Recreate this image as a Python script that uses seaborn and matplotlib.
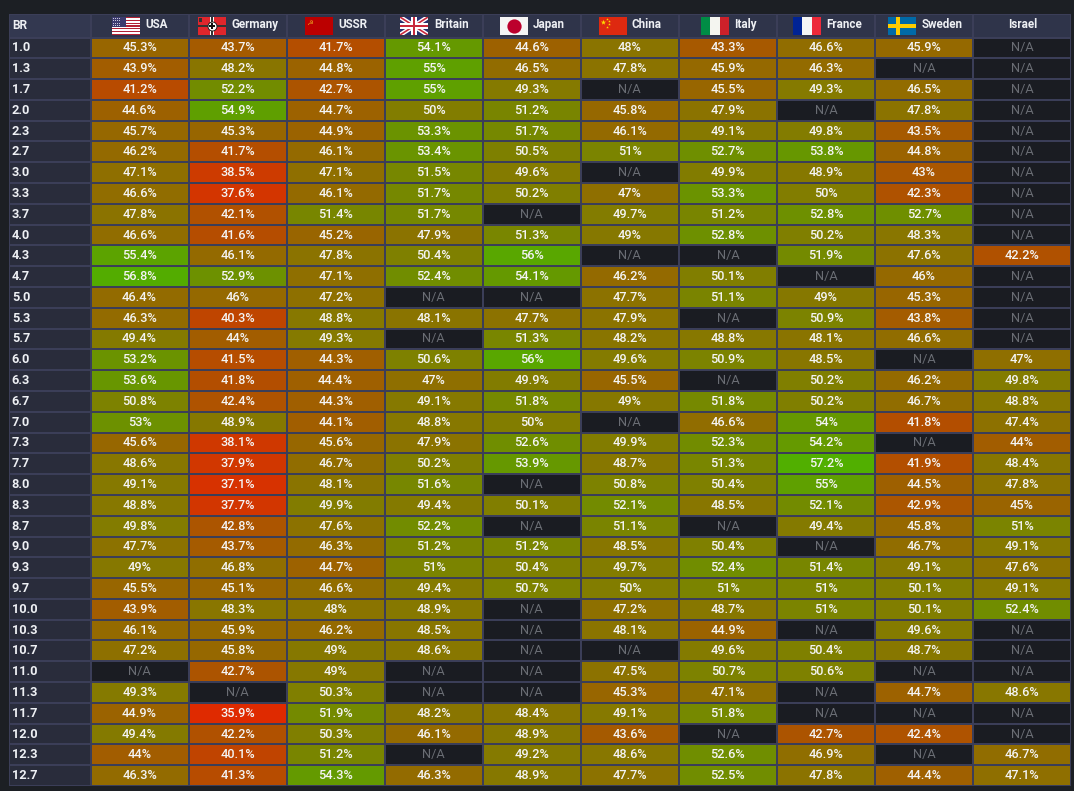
import matplotlib
matplotlib.use("Agg")
import matplotlib.pyplot as plt
import numpy as np
import pandas as pd
import seaborn as sns
from matplotlib.colors import LinearSegmentedColormap, ListedColormap
from matplotlib.patches import Rectangle

NA = np.nan

br = ["1.0", "1.3", "1.7", "2.0", "2.3", "2.7", "3.0", "3.3", "3.7", "4.0", "4.3", "4.7",
      "5.0", "5.3", "5.7", "6.0", "6.3", "6.7", "7.0", "7.3", "7.7", "8.0", "8.3", "8.7",
      "9.0", "9.3", "9.7", "10.0", "10.3", "10.7", "11.0", "11.3", "11.7", "12.0", "12.3", "12.7"]

usa = [45.3, 43.9, 41.2, 44.6, 45.7, 46.2, 47.1, 46.6, 47.8, 46.6, 55.4, 56.8,
       46.4, 46.3, 49.4, 53.2, 53.6, 50.8, 53, 45.6, 48.6, 49.1, 48.8, 49.8,
       47.7, 49, 45.5, 43.9, 46.1, 47.2, NA, 49.3, 44.9, 49.4, 44, 46.3]
germany = [43.7, 48.2, 52.2, 54.9, 45.3, 41.7, 38.5, 37.6, 42.1, 41.6, 46.1, 52.9,
           46, 40.3, 44, 41.5, 41.8, 42.4, 48.9, 38.1, 37.9, 37.1, 37.7, 42.8,
           43.7, 46.8, 45.1, 48.3, 45.9, 45.8, 42.7, NA, 35.9, 42.2, 40.1, 41.3]
ussr = [41.7, 44.8, 42.7, 44.7, 44.9, 46.1, 47.1, 46.1, 51.4, 45.2, 47.8, 47.1,
        47.2, 48.8, 49.3, 44.3, 44.4, 44.3, 44.1, 45.6, 46.7, 48.1, 49.9, 47.6,
        46.3, 44.7, 46.6, 48, 46.2, 49, 49, 50.3, 51.9, 50.3, 51.2, 54.3]
britain = [54.1, 55, 55, 50, 53.3, 53.4, 51.5, 51.7, 51.7, 47.9, 50.4, 52.4,
           NA, 48.1, NA, 50.6, 47, 49.1, 48.8, 47.9, 50.2, 51.6, 49.4, 52.2,
           51.2, 51, 49.4, 48.9, 48.5, 48.6, NA, NA, 48.2, 46.1, NA, 46.3]
japan = [44.6, 46.5, 49.3, 51.2, 51.7, 50.5, 49.6, 50.2, NA, 51.3, 56, 54.1,
         NA, 47.7, 51.3, 56, 49.9, 51.8, 50, 52.6, 53.9, NA, 50.1, NA,
         51.2, 50.4, 50.7, NA, NA, NA, NA, NA, 48.4, 48.9, 49.2, 48.9]
china = [48, 47.8, NA, 45.8, 46.1, 51, NA, 47, 49.7, 49, NA, 46.2,
         47.7, 47.9, 48.2, 49.6, 45.5, 49, NA, 49.9, 48.7, 50.8, 52.1, 51.1,
         48.5, 49.7, 50, 47.2, 48.1, NA, 47.5, 45.3, 49.1, 43.6, 48.6, 47.7]
italy = [43.3, 45.9, 45.5, 47.9, 49.1, 52.7, 49.9, 53.3, 51.2, 52.8, NA, 50.1,
         51.1, NA, 48.8, 50.9, NA, 51.8, 46.6, 52.3, 51.3, 50.4, 48.5, NA,
         50.4, 52.4, 51, 48.7, 44.9, 49.6, 50.7, 47.1, 51.8, NA, 52.6, 52.5]
france = [46.6, 46.3, 49.3, NA, 49.8, 53.8, 48.9, 50, 52.8, 50.2, 51.9, NA,
          49, 50.9, 48.1, 48.5, 50.2, 50.2, 54, 54.2, 57.2, 55, 52.1, 49.4,
          NA, 51.4, 51, 51, NA, 50.4, 50.6, NA, NA, 42.7, 46.9, 47.8]
sweden = [45.9, NA, 46.5, 47.8, 43.5, 44.8, 43, 42.3, 52.7, 48.3, 47.6, 46,
          45.3, 43.8, 46.6, NA, 46.2, 46.7, 41.8, NA, 41.9, 44.5, 42.9, 45.8,
          46.7, 49.1, 50.1, 50.1, 49.6, 48.7, NA, 44.7, NA, 42.4, NA, 44.4]
israel = [NA, NA, NA, NA, NA, NA, NA, NA, NA, NA, 42.2, NA,
          NA, NA, NA, 47, 49.8, 48.8, 47.4, 44, 48.4, 47.8, 45, 51,
          49.1, 47.6, 49.1, 52.4, NA, NA, NA, 48.6, NA, NA, 46.7, 47.1]

nations = ["USA", "Germany", "USSR", "Britain", "Japan", "China", "Italy", "France", "Sweden", "Israel"]

W, H = 1074, 791
BG = "#1c1f24"
BORDER = "#3b3e58"
HEAD = "#2f344a"
ROWHEAD = "#292c3b"
EMPTY = "#1a1c22"
VMIN, VMAX = 35, 58


def box(x0, y0, x1, y1):
    # pixel box (origin top left) to figure fraction
    return [x0 / W, 1 - y1 / H, (x1 - x0) / W, (y1 - y0) / H]


def stop(v):
    return (v - VMIN) / (VMAX - VMIN)


sns.set_theme(style="dark")
plt.rcParams["font.family"] = ["Roboto", "DejaVu Sans"]

df = pd.DataFrame(dict(zip(nations, [usa, germany, ussr, britain, japan, china, italy, france, sweden, israel])), index=br)
labels = df.map(lambda v: "" if pd.isna(v) else f"{v:g}%")

# red > olive > green, same look as the winrate cells
winrate = LinearSegmentedColormap.from_list("winrate", [
    (stop(35), "#e62400"), (stop(38), "#d03800"), (stop(41.7), "#b44e00"), (stop(45), "#9a6400"),
    (stop(48), "#8a7400"), (stop(50), "#827d00"), (stop(52), "#748a00"), (stop(54), "#669800"),
    (stop(55), "#5fa000"), (stop(58), "#4cb400")])

fig = plt.figure(figsize=(W / 100, H / 100), dpi=100, facecolor=BG)

# value cells
ax = fig.add_axes(box(90.5, 37.5, 1071, 786))
sns.heatmap(df, mask=df.isna(), cmap=winrate, vmin=VMIN, vmax=VMAX, annot=labels, fmt="",
            annot_kws={"color": "#f4f4f4", "fontsize": 9.2, "fontweight": "medium"},
            linewidths=1.3, linecolor=BORDER, cbar=False, xticklabels=False, yticklabels=False, ax=ax)
sns.heatmap(df.isna().astype(int), mask=df.notna(), cmap=ListedColormap([EMPTY]),
            annot=df.isna().map(lambda v: "N/A" if v else ""), fmt="",
            annot_kws={"color": "#6a6d74", "fontsize": 9.2},
            linewidths=1.3, linecolor=BORDER, cbar=False, xticklabels=False, yticklabels=False, ax=ax)
ax.set_xlabel("")
ax.set_ylabel("")

# BR column
ax_br = fig.add_axes(box(9, 37.5, 90.5, 786))
sns.heatmap(pd.DataFrame({"BR": [0] * len(br)}, index=br), cmap=ListedColormap([ROWHEAD]), cbar=False,
            linewidths=1.3, linecolor=BORDER, xticklabels=False, yticklabels=False, ax=ax_br)
ax_br.set_xlabel("")
ax_br.set_ylabel("")
for i, b in enumerate(br):
    ax_br.text(0.035, i + 0.5, b, color="#eef0f4", fontsize=9.2, fontweight="bold", ha="left", va="center")

# header row
ax_head = fig.add_axes(box(90.5, 13.5, 1071, 37.5))
sns.heatmap(pd.DataFrame([[0] * len(nations)], columns=nations), cmap=ListedColormap([HEAD]), cbar=False,
            linewidths=1.3, linecolor=BORDER, xticklabels=False, yticklabels=False, ax=ax_head)
ax_head.set_xlabel("")
ax_head.set_ylabel("")
ax_corner = fig.add_axes(box(9, 13.5, 90.5, 37.5))
sns.heatmap(pd.DataFrame([[0]]), cmap=ListedColormap(["#333850"]), cbar=False, linewidths=1.3, linecolor=BORDER,
            xticklabels=False, yticklabels=False, ax=ax_corner)
ax_corner.set_xlabel("")
ax_corner.set_ylabel("")
ax_corner.text(0.035, 0.5, "BR", color="#eef0f4", fontsize=8.6, fontweight="bold", ha="left", va="center")

name_x = {"USA": 145, "Germany": 232, "USSR": 338, "Britain": 434, "Japan": 533,
          "China": 632, "Italy": 734, "France": 826, "Sweden": 922}
flag_x = {"USA": 112, "Germany": 198, "USSR": 305, "Britain": 400, "Japan": 500,
          "China": 599, "Italy": 701, "France": 793, "Sweden": 888}
for name, x in name_x.items():
    fig.text(x / W, 1 - 24.3 / H, name, color="#eef0f4", fontsize=8.4, fontweight="bold", ha="left", va="center")
fig.text(1023 / W, 1 - 24.3 / H, "Israel", color="#eef0f4", fontsize=8.4, fontweight="bold", ha="center", va="center")


def flag_usa(a):
    for k in range(13):
        a.add_patch(Rectangle((0, k / 13), 1, 1 / 13, color="#b22234" if k % 2 == 0 else "white", lw=0))
    a.add_patch(Rectangle((0, 6 / 13), 0.5, 7 / 13, color="#3c3b6e", lw=0))
    for r in range(5):
        for c in range(6):
            a.add_patch(Rectangle((0.04 + c * 0.075, 0.52 + r * 0.09), 0.03, 0.04, color="#c8c8dc", lw=0))


def flag_germany(a):
    a.add_patch(Rectangle((0, 0), 1, 1, color="#e0262c", lw=0))
    a.add_patch(Rectangle((0, 0.42), 1, 0.16, color="white", lw=0))
    a.add_patch(Rectangle((0.44, 0), 0.12, 1, color="white", lw=0))
    a.add_patch(Rectangle((0, 0.46), 1, 0.08, color="#333333", lw=0))
    a.add_patch(Rectangle((0.47, 0), 0.06, 1, color="#333333", lw=0))
    a.scatter([0.5], [0.5], s=42, facecolor="white", edgecolor="#222222", lw=0.7, zorder=3)
    a.scatter([0.5], [0.5], s=16, marker="P", color="#111111", lw=0, zorder=4)
    a.add_patch(Rectangle((0.02, 0.72), 0.14, 0.22, color="#333333", lw=0))


def flag_ussr(a):
    a.add_patch(Rectangle((0, 0), 1, 1, color="#bb0000", lw=0))
    a.scatter([0.18], [0.72], s=14, marker="$\u262d$", color="#e8a020", lw=0)


def flag_britain(a):
    a.add_patch(Rectangle((0, 0), 1, 1, color="#27306e", lw=0))
    for pts in ([(0, 0), (1, 1)], [(0, 1), (1, 0)]):
        a.plot(*zip(*pts), color="white", lw=3.2, solid_capstyle="butt")
        a.plot(*zip(*pts), color="#c8283c", lw=1.2, solid_capstyle="butt")
    a.add_patch(Rectangle((0, 0.36), 1, 0.28, color="white", lw=0, zorder=3))
    a.add_patch(Rectangle((0.4, 0), 0.2, 1, color="white", lw=0, zorder=3))
    a.add_patch(Rectangle((0, 0.42), 1, 0.16, color="#c8283c", lw=0, zorder=4))
    a.add_patch(Rectangle((0.45, 0), 0.1, 1, color="#c8283c", lw=0, zorder=4))


def flag_japan(a):
    a.add_patch(Rectangle((0, 0), 1, 1, color="#f5f5f5", lw=0))
    a.scatter([0.5], [0.5], s=105, color="#bc002d", lw=0)


def flag_china(a):
    a.add_patch(Rectangle((0, 0), 1, 1, color="#de2910", lw=0))
    a.scatter([0.16], [0.72], s=16, marker="*", color="#ffde00", lw=0)
    a.scatter([0.3, 0.36, 0.36, 0.3], [0.9, 0.76, 0.6, 0.47], s=4, marker="*", color="#ffde00", lw=0)


def flag_italy(a):
    for k, c in enumerate(["#008c45", "#f4f5f0", "#cd212a"]):
        a.add_patch(Rectangle((k / 3, 0), 1 / 3, 1, color=c, lw=0))


def flag_france(a):
    for k, c in enumerate(["#002395", "#f5f5f5", "#ed2939"]):
        a.add_patch(Rectangle((k / 3, 0), 1 / 3, 1, color=c, lw=0))


def flag_sweden(a):
    a.add_patch(Rectangle((0, 0), 1, 1, color="#006aa7", lw=0))
    a.add_patch(Rectangle((0, 0.4), 1, 0.2, color="#fecc00", lw=0))
    a.add_patch(Rectangle((0.3, 0), 0.14, 1, color="#fecc00", lw=0))


flags = {"USA": flag_usa, "Germany": flag_germany, "USSR": flag_ussr, "Britain": flag_britain, "Japan": flag_japan,
         "China": flag_china, "Italy": flag_italy, "France": flag_france, "Sweden": flag_sweden}
for name, draw in flags.items():
    x = flag_x[name]
    a = fig.add_axes(box(x, 17, x + 28, 35))
    draw(a)
    a.set_xlim(0, 1)
    a.set_ylim(0, 1)
    a.axis("off")

fig.savefig("out.png", dpi=100, facecolor=BG)
